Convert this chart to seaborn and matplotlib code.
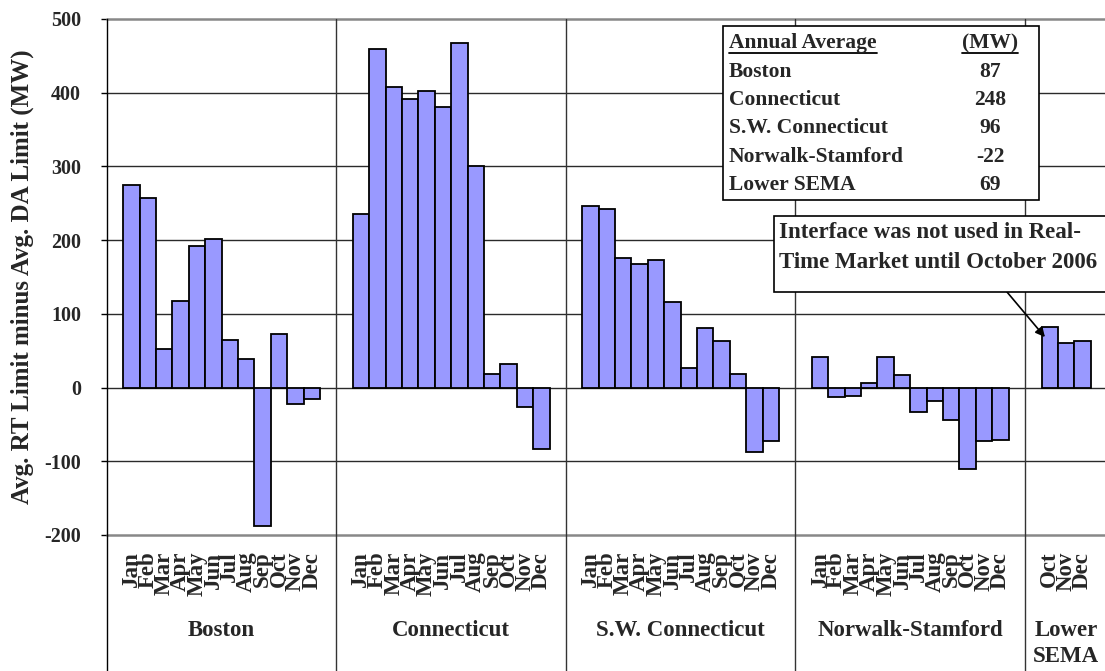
import numpy as np
import pandas as pd
import matplotlib
matplotlib.use("Agg")
import matplotlib.pyplot as plt
import seaborn as sns
from matplotlib.patches import Rectangle
from matplotlib.lines import Line2D

# ---------------- data ----------------
regions = ["Boston", "Connecticut", "S.W. Connecticut", "Norwalk-Stamford", "Lower SEMA"]
group_labels = ["Boston", "Connecticut", "S.W. Connecticut", "Norwalk-Stamford", "Lower\nSEMA"]
months = ["Jan", "Feb", "Mar", "Apr", "May", "Jun", "Jul", "Aug", "Sep", "Oct", "Nov", "Dec"]
sema_months = ["Oct", "Nov", "Dec"]

boston = [275, 257, 53, 117, 192, 201, 64, 39, -188, 73, -22, -15]
connecticut = [235, 459, 408, 391, 402, 380, 467, 300, 19, 32, -27, -84]
sw_connecticut = [246, 242, 176, 168, 173, 116, 27, 81, 63, 19, -87, -72]
norwalk_stamford = [41, -13, -12, 6, 41, 17, -33, -18, -44, -110, -73, -71]
lower_sema = [82, 61, 63]

annual_avg = [87, 248, 96, -22, 69]
yticks = [-200, -100, 0, 100, 200, 300, 400, 500]
table_header = ["Annual Average", "(MW)"]
note_lines = ["Interface was not used in Real-", "Time Market until October 2006"]

# ---------------- build table ----------------
series = [(boston, months), (connecticut, months), (sw_connecticut, months),
          (norwalk_stamford, months), (lower_sema, sema_months)]
rows, order, tick_labels, group_bounds = [], [], [], []
for gi, (reg, (vals, mlist)) in enumerate(zip(regions, series)):
    start = len(order)
    order.append(f"gap{gi}a"); tick_labels.append("")
    for m, v in zip(mlist, vals):
        key = f"{reg}|{m}"
        order.append(key); tick_labels.append(m)
        rows.append({"slot": key, "value": v, "region": reg})
    order.append(f"gap{gi}b"); tick_labels.append("")
    group_bounds.append((start - 0.5, len(order) - 0.5))
df = pd.DataFrame(rows)

# ---------------- style ----------------
sns.set_style("white")
plt.rcParams["font.family"] = ["Liberation Serif", "DejaVu Serif"]
plt.rcParams["font.weight"] = "bold"

W, H = 1105, 671
fig = plt.figure(figsize=(W / 100, H / 100), dpi=100)
ax_left, ax_right, ax_top, ax_bottom = 106.7, 1107.1, 19.0, 535.0
ax = fig.add_axes([ax_left / W, 1 - ax_bottom / H, (ax_right - ax_left) / W, (ax_bottom - ax_top) / H])

sns.barplot(data=df, x="slot", y="value", order=order, width=1.0, color="#9999FF",
            saturation=1, edgecolor="black", linewidth=1.3, errorbar=None, ax=ax, zorder=2)

n = len(order)
ax.set_xlim(-0.5, n - 0.5)
ax.set_ylim(-200, 500)
ax.set_xlabel("")

# grid lines
for y in yticks:
    if y in (yticks[0], yticks[-1]):
        ax.axhline(y, color="#888888", lw=1.8, zorder=1, clip_on=False)
    else:
        ax.axhline(y, color="#2a2a2a", lw=1.0, zorder=1)

for s in ["top", "right", "bottom"]:
    ax.spines[s].set_visible(False)
ax.spines["left"].set_color("black")
ax.spines["left"].set_linewidth(1.0)
ax.spines["left"].set_zorder(3)

# group separators (extend through category area to figure bottom)
ybot = -(H - ax_bottom) / (ax_bottom - ax_top) - 0.02
xtr = ax.get_xaxis_transform()
for (a, b) in group_bounds[:-1]:
    ax.add_line(Line2D([b, b], [ybot, 1], transform=xtr, color="#333333", lw=1.0,
                       zorder=1, clip_on=False))
ax.add_line(Line2D([-0.5, -0.5], [ybot, 0], transform=xtr, color="black", lw=1.0,
                   zorder=1, clip_on=False))

# ticks
ax.set_yticks(yticks)
ax.set_yticklabels([str(t) for t in yticks], fontsize=14.4, fontweight="bold")
ax.tick_params(axis="y", length=4.5, width=1, color="black", pad=14, left=True)
ax.set_xticks(range(n))
ax.set_xticklabels(tick_labels, rotation=90, fontsize=16.5, fontweight="bold", va="top", ha="center")
ax.tick_params(axis="x", length=0, pad=12)

# group labels
for (a, b), lab in zip(group_bounds, group_labels):
    cx = (a + b) / 2
    for li, line in enumerate(lab.split("\n")):
        ypx = 631 + li * 26
        ax.text(cx, -(ypx - ax_bottom) / (ax_bottom - ax_top), line, transform=xtr,
                ha="center", va="center", fontsize=16.5, fontweight="bold")

# y label
ax.set_ylabel("Avg. RT Limit minus Avg. DA Limit (MW)", fontsize=18, fontweight="bold", va="center")
ax.yaxis.set_label_coords((22 - ax_left) / (ax_right - ax_left), 0.5)

# ---------------- figure-pixel helpers ----------------
def fx(px):
    return px / W

def fy(py):
    return 1 - py / H

# annual average table
fig.patches.append(Rectangle((fx(723), fy(200)), (1039 - 723) / W, (200 - 26) / H,
                             transform=fig.transFigure, facecolor="white", edgecolor="black",
                             lw=1.2, zorder=5))
row_y = [43, 72, 100, 128, 157, 185]
t_head = fig.text(fx(729), fy(row_y[0]), table_header[0], ha="left", va="center",
                  fontsize=15.5, fontweight="bold", zorder=6)
t_mw = fig.text(fx(990), fy(row_y[0]), table_header[1], ha="center", va="center",
                fontsize=15.5, fontweight="bold", zorder=6)
for yy, reg, val in zip(row_y[1:], regions, annual_avg):
    fig.text(fx(729), fy(yy), reg, ha="left", va="center", fontsize=15.5, fontweight="bold", zorder=6)
    fig.text(fx(990), fy(yy), str(val), ha="center", va="center", fontsize=15.5, fontweight="bold", zorder=6)

fig.canvas.draw()
renderer = fig.canvas.get_renderer()
for t in (t_head, t_mw):
    bb = t.get_window_extent(renderer)
    fig.lines.append(Line2D([bb.x0 / W, bb.x1 / W], [fy(53), fy(53)], transform=fig.transFigure,
                            color="black", lw=1.3, zorder=6))

# annotation box
fig.patches.append(Rectangle((fx(774), fy(292)), (1130 - 774) / W, (292 - 216) / H,
                             transform=fig.transFigure, facecolor="white", edgecolor="black",
                             lw=1.2, zorder=5))
for yy, line in zip([232, 263], note_lines):
    fig.text(fx(779), fy(yy), line, ha="left", va="center", fontsize=16.5, fontweight="bold", zorder=6)

sema_oct_slot = order.index("Lower SEMA|Oct")
ax.annotate("", xy=(sema_oct_slot - 0.29, 68.5), xycoords="data",
            xytext=(fx(1007), fy(292)), textcoords="figure fraction",
            arrowprops=dict(arrowstyle="-|>", color="black", lw=1.2, mutation_scale=14,
                            shrinkA=0, shrinkB=0), zorder=7)

fig.savefig("out.png", dpi=100)
